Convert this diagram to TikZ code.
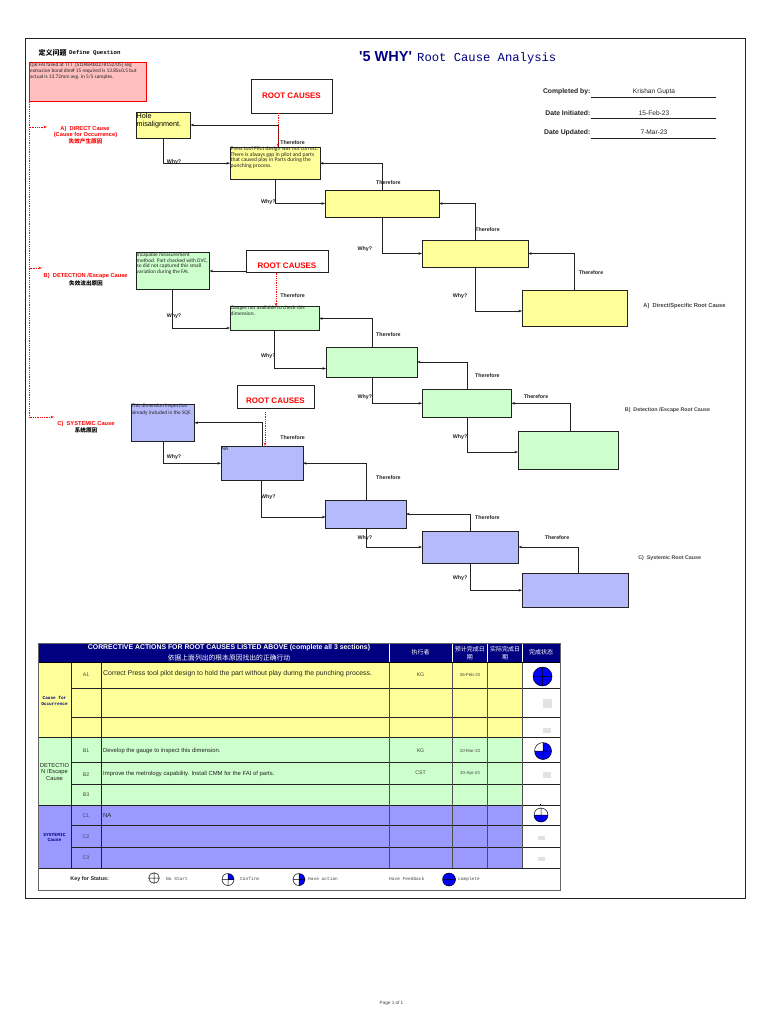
\documentclass[tikz,border=0pt]{standalone}
\usepackage{fontspec}
\setmainfont{Liberation Sans}
\setmonofont{Liberation Mono}
\newfontfamily\cjk{Noto Sans CJK SC}
\newfontfamily\note{Carlito}
\usetikzlibrary{arrows.meta}
\definecolor{yel}{HTML}{FFFF99}
\definecolor{grn}{HTML}{CCFFCC}
\definecolor{blu}{HTML}{B4BAFB}
\definecolor{per}{HTML}{9999FF}
\definecolor{pink}{HTML}{FFBFBF}
\definecolor{navyx}{HTML}{000080}
\definecolor{ink}{HTML}{222222}
\definecolor{dim}{HTML}{444444}
\definecolor{soft}{HTML}{E2E2E2}
\newcommand\fsz[1]{\fontsize{#1}{#1}\selectfont}
\newcommand\bx[7][]{\pgfmathsetmacro\bw{#5-#3}\pgfmathsetmacro\bh{#6-#4}%
  \node[#2,anchor=north west,minimum width=\bw pt,minimum height=\bh pt,#1] (#7) at (#3,#4) {};}
\newcommand\sdisc[4]{\begin{scope}[shift={(#1,#2)}]\def\sr{#3}%
  \fill[white] (0,0) circle[radius=#3];
  \begin{scope}\clip (0,0) circle[radius=#3]; #4 \end{scope}
  \draw[black,line width=.5pt] (-#3,0)--(#3,0) (0,-#3)--(0,#3) (0,0) circle[radius=#3];
  \end{scope}}
\newcommand\qTR{\fill[blue] (0,0) rectangle (\sr,-\sr);}
\newcommand\qTL{\fill[blue] (0,0) rectangle (-\sr,-\sr);}
\newcommand\qBR{\fill[blue] (0,0) rectangle (\sr,\sr);}
\newcommand\qBL{\fill[blue] (0,0) rectangle (-\sr,\sr);}
\tikzset{
  x=1pt,y=-1pt,
  box/.style={draw=ink,line width=.9pt,inner sep=0pt,outer sep=0pt},
  yb/.style={box,fill=yel},
  gb/.style={box,fill=grn},
  bb/.style={box,fill=blu},
  rootbox/.style={box,fill=white},
  txt/.style={inner sep=0pt,yshift=-.7pt},
  roottext/.style={txt,font=\fsz{8}\bfseries,text=red},
  conn/.style={draw=ink,line width=.8pt,-{Stealth[length=3.5pt,width=2.6pt]}},
  reddot/.style={draw=red,line width=.8pt,dash pattern=on .9pt off .9pt,-{Stealth[length=3.5pt,width=2.6pt,open]}},
  wlab/.style={txt,font=\fsz{5.3}\bfseries,text=ink},
  rlab/.style={txt,font=\fsz{5.7}\bfseries,text=red},
  clab/.style={txt,font=\cjk\fsz{5.6}\bfseries},
  note/.style={inner sep=0pt,font=\note\fsz{5.4},text=ink,anchor=north west,align=left},
  side/.style={txt,text=dim},
  info/.style={txt,font=\fsz{6.8}\bfseries,text=ink,anchor=east},
  val/.style={txt,font=\fsz{6.6},text=ink},
  cell/.style={txt,font=\fsz{5.2},text=dim},
  small/.style={txt,font=\fsz{4.4},text=dim},
  act/.style={txt,font=\fsz{5.9},text=ink,anchor=west},
  head/.style={txt,font=\cjk\fsz{6},text=white,align=center},
  sect/.style={txt,font=\ttfamily\bfseries\fsz{4.4},text=navyx,align=center},
  key/.style={txt,font=\ttfamily\fsz{4.5},text=dim,anchor=west},
  tline/.style={draw=ink,line width=.9pt},
}
\begin{document}
\begin{tikzpicture}
\useasboundingbox (0,0) rectangle (768,1024);
\fill[white] (0,0) rectangle (768,1024);
\draw[draw=ink,line width=.9pt] (25.5,38) rectangle (745.5,898);

% title block
\node[inner sep=0pt,anchor=west,text=navyx,font=\fsz{14.5}\bfseries] (t1) at (359,57) {\textquotesingle 5 WHY\textquotesingle};
\node[inner sep=0pt,anchor=west,text=navyx,font=\ttfamily\fsz{12.2}] (t2) at (417,58) {Root Cause Analysis};
\node[inner sep=0pt,anchor=west,font=\cjk\fsz{7}\bfseries] (q1) at (38.5,53) {定义问题};
\node[inner sep=0pt,anchor=west,font=\ttfamily\bfseries\fsz{5.7}] (q2) at (69,53) {Define Question};

\node[info] (i1) at (590.5,91.5) {Completed by:};
\node[info] (i2) at (590.5,112) {Date Initiated:};
\node[info] (i3) at (590.5,132) {Date Updated:};
\node[val] (v1) at (654,91.5) {Krishan Gupta};
\node[val] (v2) at (654,112) {15-Feb-23};
\node[val] (v3) at (654,132) {7-Mar-23};
\coordinate (l1a) at (591,97); \coordinate (l1b) at (716,97);
\coordinate (l2a) at (591,118); \coordinate (l2b) at (716,118);
\coordinate (l3a) at (591,138); \coordinate (l3b) at (716,138);
\draw[ink,line width=.7pt] (l1a)--(l1b) (l2a)--(l2b) (l3a)--(l3b);

% problem box
\bx[draw=red,line width=1pt]{box,fill=pink}{29.5}{63}{146}{102}{redbox}
\node[note,font=\note\fontsize{5.3}{5.8}\selectfont] (redtext) at (30,62.8) {Qal FAI failed at TTT~ [S10484b0278152/05] seg\\extrusion bond dim\# 15 required is 13.85±0.5 but\\actual is 13.72mm avg. in 5/5 samples.};

% section A boxes
\bx{rootbox}{251}{79}{332}{113}{root1}
\bx{yb}{136}{112}{190.5}{138}{a1}
\bx{yb}{230}{147}{320}{179.5}{a2}
\bx{yb}{325}{190}{439}{217}{a3}
\bx{yb}{422}{240}{528}{267}{a4}
\bx{yb}{522}{290}{627}{326}{a5}
% section B boxes
\bx{rootbox}{246.5}{250}{328}{272.5}{root2}
\bx{gb}{136}{252.5}{209.5}{289}{b1}
\bx{gb}{230}{306.5}{319}{330.5}{b2}
\bx{gb}{326}{347}{417}{377}{b3}
\bx{gb}{422}{389}{511.5}{417.5}{b4}
\bx{gb}{518}{431.5}{618}{469}{b5}
% section C boxes
\bx{rootbox}{237}{385}{314}{408}{root3}
\bx{bb}{131}{404.5}{194.5}{441}{c1}
\bx{bb}{221}{446}{303}{480.5}{c2}
\bx{bb}{325.5}{500}{406}{528}{c3}
\bx{bb}{422}{531}{518.5}{563}{c4}
\bx{bb}{522}{573}{628}{607.5}{c5}

% root cause captions
\node[roottext] (rt1) at (291.5,95) {ROOT CAUSES};
\node[roottext] (rt2) at (287,265) {ROOT CAUSES};
\node[roottext] (rt3) at (275.5,400.3) {ROOT CAUSES};

% box texts
\node[inner sep=0pt,anchor=north west,align=left,font=\fontsize{7.2}{8}\selectfont] (a1t) at (136.5,113.5) {Hole\\misalignment.};
\node[note,font=\note\fontsize{5.6}{5.6}\selectfont] (a2t) at (230.5,146.6) {Press tool Pilot design was not correct.\\There is always gap in pilot and  parts\\that caused play in Parts  during the\\punching process.};
\node[note,font=\note\fontsize{5.4}{5.6}\selectfont] (b1t) at (136.5,252.8) {Incapable measurement\\method. Part checked with DVC,\\so did not captured this small\\variation during the FAI.};
\node[note,font=\note\fontsize{5.4}{6}\selectfont] (b2t) at (230.5,306) {Gauges not available to check this\\dimension.};
\node[note,font=\note\fontsize{5.3}{7}\selectfont] (c1t) at (131.5,404) {This dimension inspection\\already included in the SQF.};
\node[note] (c2t) at (221.5,447) {NA};

% connectors A
\draw[conn] (a2.north -| 278,0) |- (a1.east);
\draw[conn] (a1.south -| 163,0) |- (a2.west);
\draw[conn] (a2.south -| 275.6,0) |- (a3.west);
\draw[conn] (a3.north -| 382,0) |- (a2.east);
\draw[conn] (a3.south -| 382,0) |- (a4.west);
\draw[conn] (a4.north -| 475.5,0) |- (a3.east);
\draw[conn] (a4.south -| 475.5,0) |- (a5.west |- 0,311);
\draw[conn] (a5.north -| 574.5,0) |- (a4.east);
% connectors B
\draw[conn] (root2.west |- 0,271) -- (b1.east |- 0,271);
\draw[conn] (b1.south -| 172,0) |- (b2.west |- 0,328);
\draw[conn] (b2.south -| 274.5,0) |- (b3.west |- 0,368.5);
\draw[conn] (b3.north -| 372,0) |- (b2.east);
\draw[conn] (b3.south -| 372,0) |- (b4.west);
\draw[conn] (b4.north -| 467.5,0) |- (b3.east);
\draw[conn] (b4.south -| 467.5,0) |- (b5.west |- 0,452);
\draw[conn] (b5.north -| 570.5,0) |- (b4.east);
% connectors C
\draw[conn] (c2.north -| 262.5,0) |- (c1.east);
\draw[conn] (c1.south -| 163,0) |- (c2.west);
\draw[conn] (c2.south -| 261.5,0) |- (c3.west |- 0,517);
\draw[conn] (c3.north -| 366,0) |- (c2.east);
\draw[conn] (c3.south -| 366,0) |- (c4.west);
\draw[conn] (c4.north -| 470.5,0) |- (c3.east);
\draw[conn] (c4.south -| 470.5,0) |- (c5.west);
\draw[conn] (c5.north -| 578,0) |- (c4.east);

% red dotted
\draw[reddot] (root1.south -| 278,0) -- (a2.north -| 278,0);
\draw[reddot] (root2.south -| 276,0) -- (b2.north -| 276,0);
\coordinate (r3s) at (265,412);
\draw[reddot] (r3s) -- (c2.north -| 265,0);
\coordinate (ta) at (47,127);
\coordinate (tb) at (42,268);
\coordinate (tc) at (54,417);
\draw[reddot] (redbox.south west) |- (ta);
\draw[reddot] (redbox.south west) |- (tb);
\draw[reddot] (redbox.south west) |- (tc);

% left labels
\node[rlab] (la1) at (85,128) {A)~~DIRECT Cause};
\node[rlab] (la2) at (85.5,134.5) {(Cause for Occurrence)};
\node[clab,text=red] (la3) at (85.5,141) {失效产生原因};
\node[rlab] (lb1) at (85.7,275) {B)~~DETECTION /Escape Cause};
\node[clab] (lb2) at (86,282.3) {失效流出原因};
\node[rlab] (lc1) at (86,423) {C)~~SYSTEMIC Cause};
\node[clab] (lc2) at (86,430) {系统原因};
% right labels
\node[side,font=\fsz{5.7}\bfseries] (ra) at (684.5,305.3) {A)~~Direct/Specific Root Cause};
\node[side,font=\fsz{5.3}\bfseries] (rb) at (667.5,409.7) {B)~~Detection /Escape Root Cause};
\node[side,font=\fsz{5.3}\bfseries] (rc) at (669.7,557.7) {C)~~Systemic Root Cause};

% Therefore
\foreach \n/\px/\py in {1/292.5/141.7,2/388.3/182,3/487.5/228.7,4/591/272,
  5/292.7/295,6/388.3/334.3,7/487.3/375.3,8/536/396.3,
  9/292.7/436.7,10/388.3/477,11/487.3/517.3,12/557/537}
  \node[wlab] (th\n) at (\px,\py) {Therefore};
% Why
\foreach \n/\px/\py in {1/174/161.7,2/268.3/201.7,3/364.8/248.3,4/460.2/295,
  5/174/315.7,6/268.3/355.7,7/364.8/396.3,8/460.2/436.7,
  9/174/456.3,10/268.3/496.7,11/364.8/537,12/460.2/577.3}
  \node[wlab] (wy\n) at (\px,\py) {Why?};

% table fills
\fill[navyx] (38,643) rectangle (561,662.5);
\fill[yel] (38,662.5) rectangle (522.5,738);
\fill[grn] (38,738) rectangle (522.5,805.3);
\fill[per] (38,805.3) rectangle (522.5,868.3);
% table grid
\draw[tline] (71,662.5)--(522.5,662.5);
\draw[tline,draw=black,line width=1.1pt] (38,662.5)--(561,662.5);
\foreach \yy in {688.3,717.3,762.3,784.3,825.7,847.7}
  \draw[tline] (71,\yy)--(561,\yy);
\foreach \yy in {737.7,805.3,868.3}
  \draw[tline] (38,\yy)--(561,\yy);
\foreach \xx in {71,101.5}
  \draw[tline] (\xx,662.5)--(\xx,868.3);
\foreach \xx in {389,452.3,487.5,522.5}
  \draw[tline,draw=ink!80] (\xx,662.5)--(\xx,868.3);
\foreach \xx in {389,452.3,487.5,522.5}
  \draw[white,line width=.6pt] (\xx,643)--(\xx,662);
\draw[draw=ink!70,line width=.8pt] (38,643) rectangle (560.5,890);

% header text
\node[txt,text=white,font=\fsz{6.9}\bfseries] (h1) at (229,647) {CORRECTIVE ACTIONS FOR ROOT CAUSES LISTED ABOVE (complete all 3 sections)};
\node[head,font=\cjk\fsz{6.8}] (h2) at (229,657.5) {依据上面列出的根本原因找出的正确行动};
\node[head] (h3) at (420.5,652) {执行者};
\node[head,font=\cjk\fontsize{6}{8.5}\selectfont] (h4) at (469.8,652.5) {预计完成日\\期};
\node[head,font=\cjk\fontsize{6}{8.5}\selectfont] (h5) at (505,652.5) {实际完成日\\期};
\node[head] (h6) at (541,652) {完成状态};

% section names
\node[sect,font=\ttfamily\bfseries\fontsize{4.4}{5.4}\selectfont] (s1) at (54.5,700) {Cause for\\Occurrence};
\node[txt,align=center,text=ink,font=\fontsize{5.8}{6.4}\selectfont] (s2) at (54.5,771) {DETECTIO\\N /Escape\\Cause};
\node[sect,font=\ttfamily\bfseries\fontsize{4.6}{5.6}\selectfont] (s3) at (54.5,836.7) {SYSTEMIC\\Cause};

% row ids
\foreach \n/\py in {A1/674,B1/750,B2/773.5,B3/794,C1/815,C2/836,C3/857}
  \node[cell] (id\n) at (86,\py) {\n};

% actions
\node[act,font=\fsz{6.9}] (ac1) at (103,673.5) {Correct Press tool pilot design to hold the part without play during the punching process.};
\node[act] (ac2) at (103,750) {Develop the gauge to inspect this dimension.};
\node[act] (ac3) at (103,773.5) {Improve the metrology capability. Install CMM for the FAI of parts.};
\node[act] (ac4) at (103,815) {NA};
\node[cell] (o1) at (420.5,674) {KG};
\node[small] (d1) at (470,674.5) {26-Feb-23};
\node[cell] (o2) at (420.5,750) {KG};
\node[small] (d2) at (470,750) {10-Mar-23};
\node[cell] (o3) at (420.5,772.5) {CST};
\node[small] (d3) at (470,772.5) {30-Apr-23};

% status marks
\sdisc{542.5}{676.5}{9.5}{\qTR\qTL\qBR\qBL}
\sdisc{543}{751}{8.5}{\qTR\qBR\qBL}
\sdisc{541}{815}{7}{\qBR\qBL}
\fill[black] (539.5,803.5) rectangle (541,804.5);
\fill[soft] (542.5,698.5) rectangle (551.5,707.5);
\fill[soft] (542.5,727.5) rectangle (550.5,732.5);
\fill[soft] (543,772) rectangle (551,778);
\fill[soft] (537.5,835.7) rectangle (544.5,840.2);
\fill[soft] (537.5,856.7) rectangle (544.5,861.2);

% key row
\node[txt,text=ink,font=\fsz{5.4}\bfseries] (k0) at (89.7,878) {Key for Status:};
\sdisc{154}{878}{5.3}{}
\node[key] (k1) at (166,878) {No Start};
\sdisc{228}{879.5}{6}{\qTR}
\node[key] (k2) at (240,878.5) {Confirm};
\sdisc{299}{879.5}{6}{\qTR\qBR}
\node[key] (k3) at (308,878.5) {Have action};
\node[key] (k4) at (389,878.5) {Have Feedback};
\sdisc{449}{879.5}{6.5}{\qTR\qTL\qBR\qBL}
\node[key] (k5) at (458,878.5) {complete};

\node[txt,text=dim,font=\fsz{4.6}] (pg) at (391.5,1003) {Page 1 of 1};
\end{tikzpicture}
\end{document}
